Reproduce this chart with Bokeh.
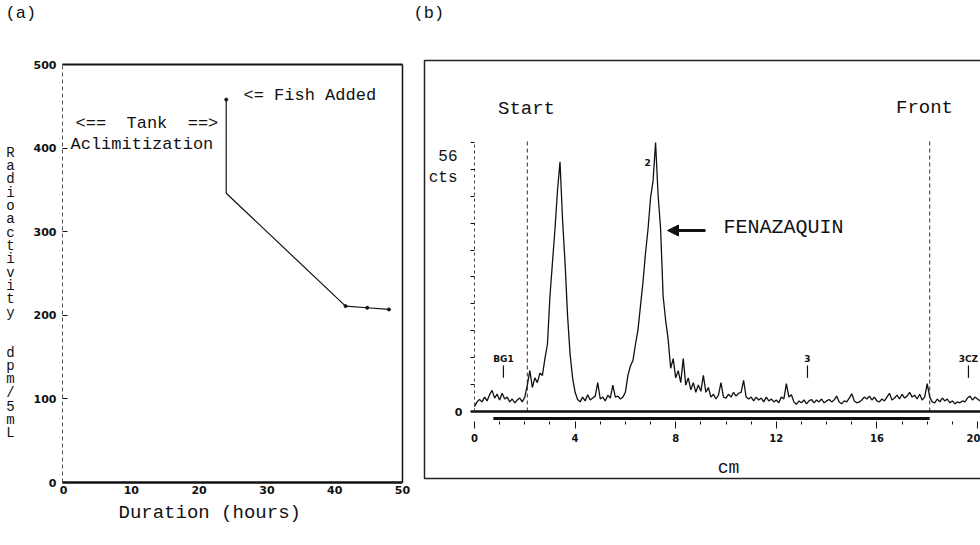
from bokeh.plotting import figure
from bokeh.layouts import row
from bokeh.models import Range1d, LinearAxis, FixedTicker, Label, Arrow, NormalHead
from bokeh.embed import file_html
from bokeh.resources import INLINE

MONO = "Liberation Mono"
SANS = "DejaVu Sans"
INK = "#111111"
NB = "\u00a0"

# ---------------- Panel (a) data ----------------
hours = [24.0, 24.0, 41.6, 44.8, 48.0]
dpm_per_5ml = [458, 346, 211, 209, 207]
a_x_ticks = [0, 10, 20, 30, 40, 50]
a_y_ticks = [0, 100, 200, 300, 400, 500]
a_x_extent = [-0.15, 50.0]
a_y_extent = [0, 500]
a_y_label = "Radioactivity  dpm/5mL"

# ---------------- Panel (b) data ----------------
trace_cts = [
    1.0, 2.0, 2.5, 2.0, 3.0, 2.2, 3.5, 4.4, 2.8, 3.6,
    2.4, 3.8, 2.6, 3.0, 2.0, 2.6, 1.8, 2.4, 2.8, 2.0,
    3.0, 5.5, 8.5, 5.0, 7.0, 6.0, 8.0, 7.5, 11.0, 14.0,
    24.0, 31.0, 38.0, 46.0, 52.0, 40.0, 31.0, 20.0, 12.0, 7.0,
    4.0, 2.5, 2.0, 3.0, 2.2, 3.5, 2.4, 2.8, 3.2, 6.0,
    2.6, 3.0, 2.2, 3.4, 2.8, 5.5, 3.0, 3.2, 2.6, 3.0,
    4.0, 7.5, 9.5, 10.6, 14.0, 17.0, 22.0, 27.0, 33.0, 38.0,
    44.5, 48.0, 56.0, 45.0, 38.0, 24.0, 19.0, 15.0, 9.0, 11.0,
    7.0, 8.5, 6.0, 11.0, 5.5, 7.0, 4.5, 6.0, 4.0, 5.5,
    4.2, 7.5, 4.0, 5.0, 3.0, 3.6, 2.6, 3.4, 6.0, 3.0,
    2.8, 3.6, 3.0, 4.0, 3.2, 3.8, 4.0, 6.5, 3.0, 2.6,
    3.0, 2.2, 3.0, 2.4, 2.8, 2.0, 3.0, 2.2, 2.6, 2.0,
    2.4, 1.8, 3.0, 2.6, 5.8, 3.0, 3.5, 2.0, 1.5, 2.2,
    1.8, 2.4, 1.6, 2.2, 2.5, 1.8, 2.4, 2.0, 2.6, 1.8,
    2.2, 2.5, 2.0, 2.4, 3.2, 2.0, 1.6, 2.2, 2.0, 2.8,
    3.7, 2.2, 1.8, 2.0, 2.4, 3.0, 2.6, 3.2, 2.4, 3.0,
    2.2, 2.0, 2.6, 2.2, 3.0, 3.8, 2.4, 2.8, 3.4, 2.6,
    3.6, 2.8, 3.2, 4.0, 3.0, 3.4, 2.6, 3.6, 2.4, 3.0,
    5.8, 3.0, 2.0, 1.8, 2.6, 2.0, 2.8, 2.2, 2.6, 1.8,
    2.2, 1.6, 2.0, 1.8, 2.2, 2.0, 2.8, 3.2, 2.4, 3.0,
    2.6, 2.2,
]
trace_cm = [round(0.1 * i, 1) for i in range(len(trace_cts))]
start_cm = 2.1
front_cm = 18.1
lane_top_cts = 56.5
baseline_cm = [-0.15, 20.2]
scan_bar_cm = [0.75, 18.1]
scan_bar_level = -1.46
b_x_major = [0, 4, 8, 12, 16, 20]
b_x_minor = [1, 2, 3, 5, 6, 7, 9, 10, 11, 13, 14, 15, 17, 18, 19]
b_y_ticks = [0, 5.6, 11.2, 16.8, 22.4, 28.0, 33.6, 39.2, 44.8, 50.4, 56.0]
marker_cm = [1.15, 13.24, 19.64]
marker_names = ["BG1", "3", "3CZ"]
peak2_cm = 6.88
peak2_cts = 51.9
box_b_cm = [20.3, -1.988, -1.988, 20.3]
box_b_cts = [73.07, 73.07, -13.95, -13.95]

# ================= Panel (a) =================
A_X0, A_XS = 63.0, 6.78     # screen x of 0 h, px per hour
A_Y0, A_YS = 482.0, 0.836   # screen y of 0, px per unit
WA, H = 412, 545

fa = figure(width=WA, height=H,
            x_range=Range1d(-A_X0 / A_XS, (WA - A_X0) / A_XS),
            y_range=Range1d(-(H - A_Y0) / A_YS, A_Y0 / A_YS),
            output_backend="svg", toolbar_location=None,
            x_axis_location=None, y_axis_location=None,
            min_border_left=0, min_border_right=0,
            min_border_top=0, min_border_bottom=0)
fa.outline_line_color = None
fa.background_fill_color = "white"
fa.border_fill_color = "white"

xa = LinearAxis(ticker=FixedTicker(ticks=a_x_ticks), fixed_location=0,
                bounds=(a_x_extent[0], a_x_extent[1]))
xa.axis_line_width = 2.5
xa.axis_line_color = INK
xa.major_tick_in = 0
xa.major_tick_out = 0
xa.minor_tick_in = 0
xa.minor_tick_out = 0
xa.major_label_standoff = 3
xa.major_label_text_font = SANS
xa.major_label_text_font_style = "bold"
xa.major_label_text_font_size = "11px"
xa.major_label_text_color = INK
fa.add_layout(xa, "below")

ya = LinearAxis(ticker=FixedTicker(ticks=a_y_ticks), fixed_location=a_x_extent[0],
                bounds=(0, 500))
ya.axis_line_color = "#555555"
ya.axis_line_dash = "4 3"
ya.axis_line_width = 1
ya.major_tick_in = 5
ya.major_tick_out = 0
ya.minor_tick_in = 0
ya.minor_tick_out = 0
ya.major_tick_line_color = INK
ya.major_label_standoff = 6
ya.major_label_text_font = SANS
ya.major_label_text_font_style = "bold"
ya.major_label_text_font_size = "11px"
ya.major_label_text_color = INK
fa.add_layout(ya, "left")

# top and right border of panel (a)
fa.line(a_x_extent, [a_y_extent[1]] * 2, line_color=INK, line_width=2)
fa.line([a_x_extent[1]] * 2, a_y_extent, line_color=INK, line_width=1.5)

fa.line(hours, dpm_per_5ml, line_color=INK, line_width=1.2)
fa.scatter(hours[:1] + hours[2:], dpm_per_5ml[:1] + dpm_per_5ml[2:], size=3, color=INK)


def ax(px):
    return (px - A_X0) / A_XS


def ay(py):
    return (A_Y0 - py) / A_YS


def add_a(text, px, py, size="17px", align="left", style="normal"):
    fa.add_layout(Label(x=ax(px), y=ay(py), text=text, text_font=MONO,
                        text_font_size=size, text_color=INK, text_font_style=style,
                        text_align=align, text_baseline="middle"))


add_a("(a)", 5, 13)
add_a("<==" + NB * 2 + "Tank" + NB * 2 + "==>", 75, 123)
add_a("Aclimitization", 70, 144)
add_a("<=" + NB + "Fish" + NB + "Added", 243, 95)
add_a("Duration" + NB + "(hours)", 118, 512, size="19px")
for i, ch in enumerate(a_y_label):
    if ch != " ":
        add_a(ch, 10, 152 + i * 13.35, size="14px", align="center")

# ================= Panel (b) =================
B_LEFT = 412.0
B_X0, B_XS = 474.0 - B_LEFT, 25.15
B_Y0, B_YS = 411.0, 4.804
WB = 980 - 412

fb = figure(width=WB, height=H,
            x_range=Range1d(-B_X0 / B_XS, (WB - B_X0) / B_XS),
            y_range=Range1d(-(H - B_Y0) / B_YS, B_Y0 / B_YS),
            output_backend="svg", toolbar_location=None,
            x_axis_location=None, y_axis_location=None,
            min_border_left=0, min_border_right=0,
            min_border_top=0, min_border_bottom=0)
fb.outline_line_color = None
fb.background_fill_color = "white"
fb.border_fill_color = "white"

fb.line(box_b_cm, box_b_cts, line_color="#222222", line_width=1.5)

xb = LinearAxis(ticker=FixedTicker(ticks=b_x_major, minor_ticks=b_x_minor),
                fixed_location=-2.1, bounds=(0, 20))
xb.axis_line_color = None
xb.major_tick_in = 0
xb.major_tick_out = 7
xb.minor_tick_in = 0
xb.minor_tick_out = 3
xb.major_tick_line_color = INK
xb.minor_tick_line_color = INK
xb.major_label_standoff = 5
xb.major_label_text_font = SANS
xb.major_label_text_font_style = "bold"
xb.major_label_text_font_size = "10px"
xb.major_label_text_color = INK
fb.add_layout(xb, "below")

yb = LinearAxis(ticker=FixedTicker(ticks=b_y_ticks[:1], minor_ticks=b_y_ticks[1:]),
                fixed_location=0, bounds=(0, 56))
yb.axis_line_color = "#444444"
yb.axis_line_dash = "3 3"
yb.major_tick_in = 0
yb.major_tick_out = 4
yb.minor_tick_in = 0
yb.minor_tick_out = 4
yb.major_tick_line_color = INK
yb.minor_tick_line_color = INK
yb.major_label_standoff = 8
yb.major_label_text_font = SANS
yb.major_label_text_font_style = "bold"
yb.major_label_text_font_size = "11px"
yb.major_label_text_color = INK
fb.add_layout(yb, "left")

# start / front lines
fb.segment(x0=[start_cm, front_cm], y0=[0, 0], x1=[start_cm, front_cm],
           y1=[lane_top_cts, lane_top_cts], line_color="#333333",
           line_dash="4 3", line_width=1)
# baseline and scan bar
fb.line(baseline_cm, [0, 0], line_color=INK, line_width=2.5)
fb.line(scan_bar_cm, [scan_bar_level, scan_bar_level], line_color=INK, line_width=3)
# radio trace
fb.line(trace_cm, trace_cts, line_color=INK, line_width=1.3)
# peak markers
fb.segment(x0=marker_cm, y0=[7.0] * len(marker_cm), x1=marker_cm,
           y1=[9.6] * len(marker_cm), line_color=INK, line_width=1.2)


def bx(px):
    return (px - 474.0) / B_XS


def by(py):
    return (B_Y0 - py) / B_YS


def add_b(text, x, y, size="17px", align="left", font=MONO, style="normal"):
    fb.add_layout(Label(x=x, y=y, text=text, text_font=font,
                        text_font_size=size, text_color=INK, text_font_style=style,
                        text_align=align, text_baseline="middle"))


add_b("(b)", bx(413), by(13))
add_b("Start", bx(526), by(108), size="19px", align="center")
add_b("Front", bx(924), by(107), size="19px", align="center")
add_b("56", bx(457), by(155), size="16px", align="right")
add_b("cts", bx(457), by(177), size="16px", align="right")
add_b("FENAZAQUIN", bx(723), by(227), size="20px")
add_b("cm", bx(728), by(467), size="18px", align="center")
for c, name in zip(marker_cm, marker_names):
    add_b(name, c, 11.0, size="9px", align="center", font=SANS, style="bold")
add_b("2", peak2_cm, peak2_cts, size="9px", align="center", font=SANS, style="bold")

fb.add_layout(Arrow(end=NormalHead(size=11, fill_color=INK, line_color=INK),
                    x_start=bx(705), y_start=by(230), x_end=bx(667), y_end=by(230),
                    line_color=INK, line_width=3))

for f in (fa, fb):
    f.xgrid.visible = False
    f.ygrid.visible = False

layout = row(fa, fb, spacing=0)
open("out.html", "w").write(file_html(layout, INLINE))
